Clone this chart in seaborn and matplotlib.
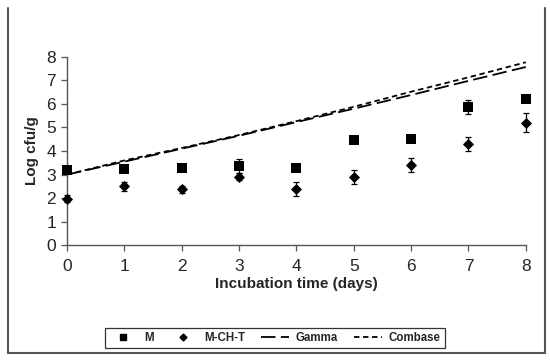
import matplotlib
matplotlib.use("Agg")
import matplotlib.pyplot as plt
from matplotlib.lines import Line2D
import seaborn as sns
import pandas as pd

days = [0, 1, 2, 3, 4, 5, 6, 7, 8]
m_vals = [3.2, 3.23, 3.28, 3.36, 3.28, 4.47, 4.5, 5.88, 6.23]
m_err = [0.1, 0.12, 0.1, 0.3, 0.05, 0.05, 0.12, 0.3, 0.15]
mcht_vals = [1.97, 2.5, 2.38, 2.9, 2.38, 2.9, 3.4, 4.28, 5.2]
mcht_err = [0.15, 0.2, 0.15, 0.15, 0.3, 0.3, 0.3, 0.3, 0.4]
gamma_vals = [3.0, 3.55, 4.1, 4.65, 5.23, 5.8, 6.38, 6.98, 7.57]
combase_vals = [3.0, 3.6, 4.13, 4.68, 5.27, 5.88, 6.52, 7.13, 7.77]

sns.set_theme(style="white")
plt.rcParams['font.family'] = ['Liberation Sans', 'DejaVu Sans']

df = pd.DataFrame({"day": days, "M": m_vals, "MCHT": mcht_vals,
                   "Gamma": gamma_vals, "Combase": combase_vals})

fig = plt.figure(figsize=(5.5, 3.6), dpi=100)
ax = fig.add_axes([0.122, 0.319, 0.834, 0.523])

sns.lineplot(data=df, x="day", y="Gamma", ax=ax, color="black", lw=1.3, label="Gamma")
ax.lines[-1].set_dashes([8, 3])
sns.lineplot(data=df, x="day", y="Combase", ax=ax, color="black", lw=1.3, label="Combase")
ax.lines[-1].set_dashes([3, 2])

for vals, errs in [(m_vals, m_err), (mcht_vals, mcht_err)]:
    eb = ax.errorbar(days, vals, yerr=errs, fmt="none", ecolor="black",
                     elinewidth=0.9, capsize=2.5, capthick=0.9)
    for art in list(eb.lines[1]) + list(eb.lines[2]):
        art.set_clip_on(False)

sns.scatterplot(data=df, x="day", y="M", ax=ax, marker="s", color="black", s=50,
                edgecolor="black", linewidth=0, label="M", zorder=5, clip_on=False)
sns.scatterplot(data=df, x="day", y="MCHT", ax=ax, marker="D", color="black", s=32,
                edgecolor="black", linewidth=0, label="M-CH-T", zorder=5, clip_on=False)

ax.set_xlim(0, 8)
ax.set_ylim(0, 8)
ax.set_xticks(range(0, 9))
ax.set_yticks(range(0, 9))
ax.set_xlabel("Incubation time (days)", fontsize=11, fontweight="bold", labelpad=2)
ax.set_ylabel("Log cfu/g", fontsize=11, fontweight="bold", labelpad=5)
ax.tick_params(axis="both", labelsize=12.5, direction="out", length=4, width=0.9,
               color="#555555", bottom=True, left=True)
ax.tick_params(axis="x", pad=6)
ax.tick_params(axis="y", pad=4)
for s in ["top", "right"]:
    ax.spines[s].set_visible(False)
for s in ["left", "bottom"]:
    ax.spines[s].set_color("#555555")
    ax.spines[s].set_linewidth(1.0)

order = ["M", "M-CH-T", "Gamma", "Combase"]
h_list = [
    Line2D([], [], marker="s", color="black", ls="none", markersize=4.5),
    Line2D([], [], marker="D", color="black", ls="none", markersize=3.5),
    Line2D([], [], color="black", lw=1.3, dashes=[8, 3]),
    Line2D([], [], color="black", lw=1.3, dashes=[3, 2]),
]
if ax.get_legend():
    ax.get_legend().remove()
leg = fig.legend(h_list, order, loc="center", bbox_to_anchor=(0.5, 0.061), ncol=4,
                 frameon=True, fancybox=False, edgecolor="black",
                 prop={"size": 8.3, "weight": "bold"}, handlelength=2.4,
                 columnspacing=1.4, handletextpad=0.6, borderpad=0.35)
leg.get_frame().set_linewidth(0.9)

# outer border (left, bottom, right)
bc = "#555555"
fig.add_artist(Line2D([0.0145, 0.0145], [0.019, 0.978], transform=fig.transFigure, color=bc, lw=1.5))
fig.add_artist(Line2D([0.0145, 0.991], [0.019, 0.019], transform=fig.transFigure, color=bc, lw=1.5))
fig.add_artist(Line2D([0.991, 0.991], [0.019, 0.978], transform=fig.transFigure, color=bc, lw=1.5))

fig.savefig("out.png", dpi=100)
